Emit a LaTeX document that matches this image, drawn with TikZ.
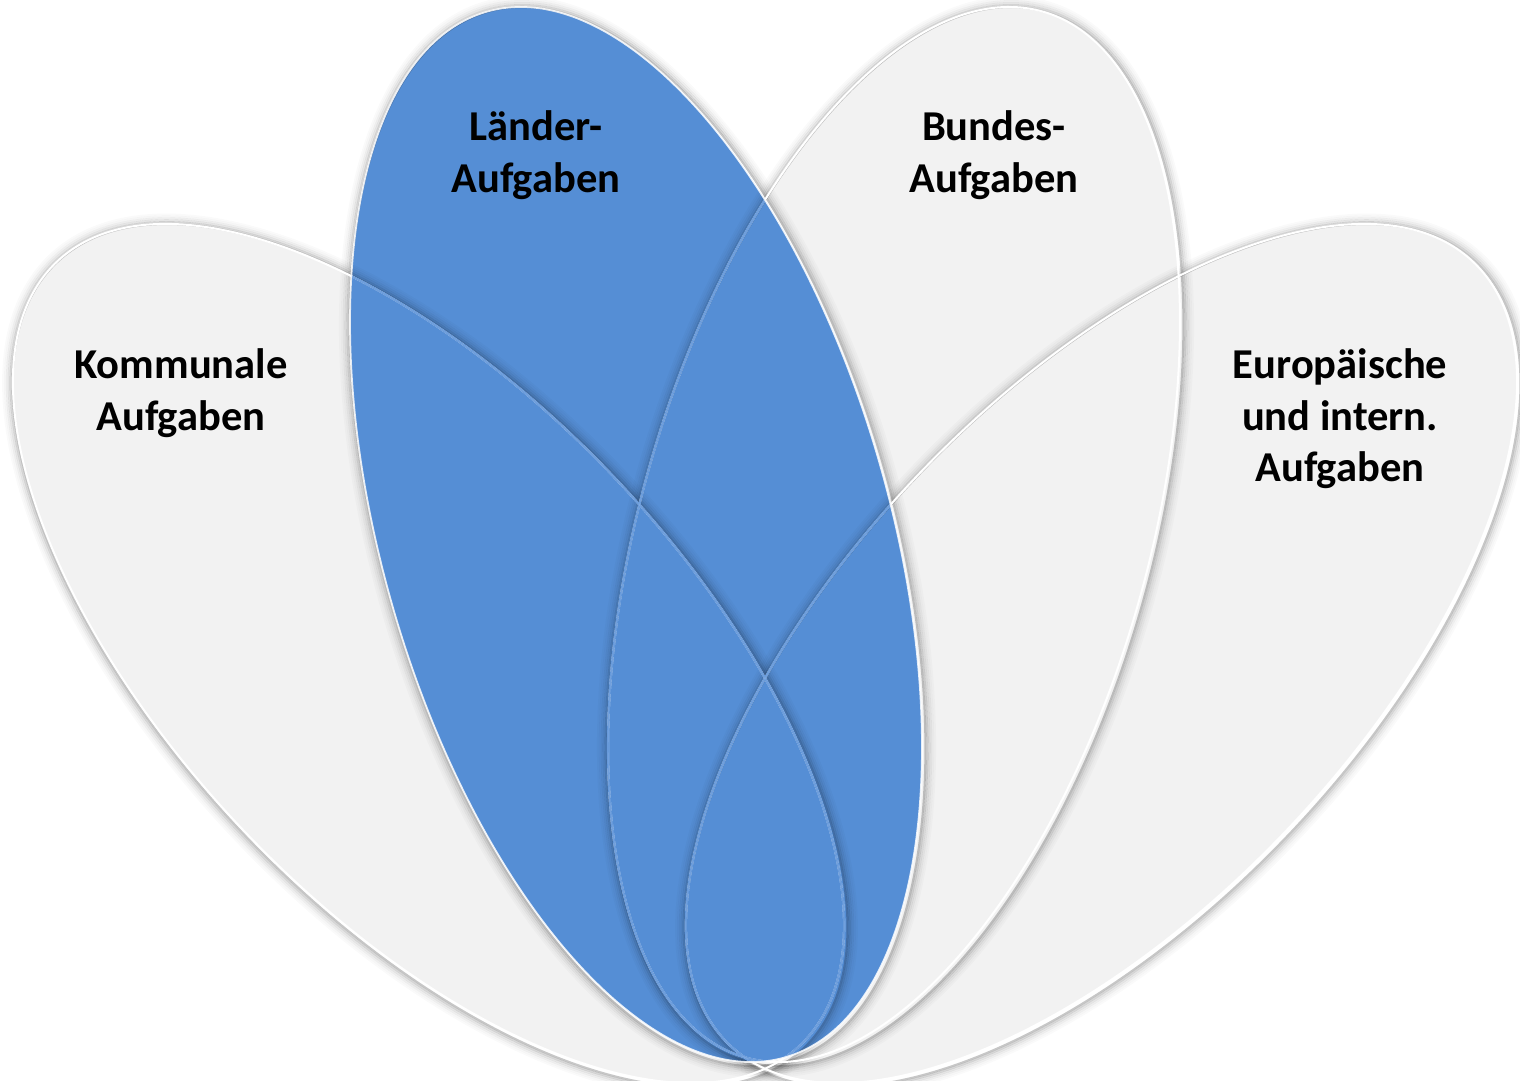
\documentclass[tikz,border=0pt]{standalone}
\usepackage{fontspec}
\setmainfont{Carlito}
\definecolor{petalgray}{HTML}{F2F2F2}
\definecolor{petalblue}{HTML}{558ED5}
\definecolor{edgeblue}{HTML}{8DB3E6}
% cx, cy, angle, a (major), b (minor), options
\newcommand\mypetal[6]{%
  \path[rotate around={#3:(#1,#2)}, #6] (#1,#2) ellipse [x radius=#5, y radius=#4];}
\newcommand\mypetalshadow[5]{%
  \foreach \dd/\oo in {2/0.22,4/0.16,6/0.10,8/0.065,10/0.035,12/0.018}{%
    \draw[rotate around={#3:(#1+1.5,#2+2)}, black, opacity=\oo, line width=0.57pt]
      (#1+1.5,#2+2) ellipse [x radius=#5+\dd, y radius=#4+\dd];}}
\tikzset{
  labeltext/.style={align=center, text=black,
    font={\fontsize{12.1}{14.6}\selectfont\bfseries}},
  whiteedge/.style={draw=white, line width=0.57pt},
  inneredge/.style={draw=edgeblue, opacity=0.5, line width=0.4pt}
}
\begin{document}
\begin{tikzpicture}[x=0.01cm, y=-0.01cm]
  \useasboundingbox (0,0) rectangle (1520,1081);
  \fill[white] (0,0) rectangle (1520,1081);
  % fills
  \mypetal{428.5}{653.5}{43.5}{540}{256}{fill=petalgray}
  \mypetal{1101.5}{653.5}{-43.5}{540}{256}{fill=petalgray}
  \mypetal{894}{534.5}{-15.9}{543.7}{253.8}{fill=petalgray}
  \mypetal{636}{534.5}{15.9}{543.7}{253.8}{fill=petalblue}
  % shadows
  \mypetalshadow{428.5}{653.5}{43.5}{540}{256}
  \mypetalshadow{1101.5}{653.5}{-43.5}{540}{256}
  \mypetalshadow{894}{534.5}{-15.9}{543.7}{253.8}
  \mypetalshadow{636}{534.5}{15.9}{543.7}{253.8}
  % white outlines
  \mypetal{428.5}{653.5}{43.5}{540}{256}{whiteedge}
  \mypetal{1101.5}{653.5}{-43.5}{540}{256}{whiteedge}
  \mypetal{894}{534.5}{-15.9}{543.7}{253.8}{whiteedge}
  % edges seen inside the blue petal
  \begin{scope}
    \path[clip, rotate around={15.9:(636,534.5)}] (636,534.5) ellipse [x radius=253.8, y radius=543.7];
    \mypetal{428.5}{653.5}{43.5}{540}{256}{draw=petalblue, line width=0.6pt}
    \mypetal{1101.5}{653.5}{-43.5}{540}{256}{draw=petalblue, line width=0.6pt}
    \mypetal{894}{534.5}{-15.9}{543.7}{253.8}{draw=petalblue, line width=0.6pt}
    \mypetal{428.5}{653.5}{43.5}{540}{256}{inneredge}
    \mypetal{1101.5}{653.5}{-43.5}{540}{256}{inneredge}
    \mypetal{894}{534.5}{-15.9}{543.7}{253.8}{inneredge}
  \end{scope}
  \mypetal{636}{534.5}{15.9}{543.7}{253.8}{draw=white, opacity=0.85, line width=0.5pt}
  % labels
  \node[labeltext] (kom) at (181,393) {Kommunale\\Aufgaben};
  \node[labeltext] (lan) at (536,155) {Länder-\\Aufgaben};
  \node[labeltext] (bun) at (994,155) {Bundes-\\Aufgaben};
  \node[labeltext] (eur) at (1340,419) {Europäische\\und intern.\\Aufgaben};
\end{tikzpicture}
\end{document}
